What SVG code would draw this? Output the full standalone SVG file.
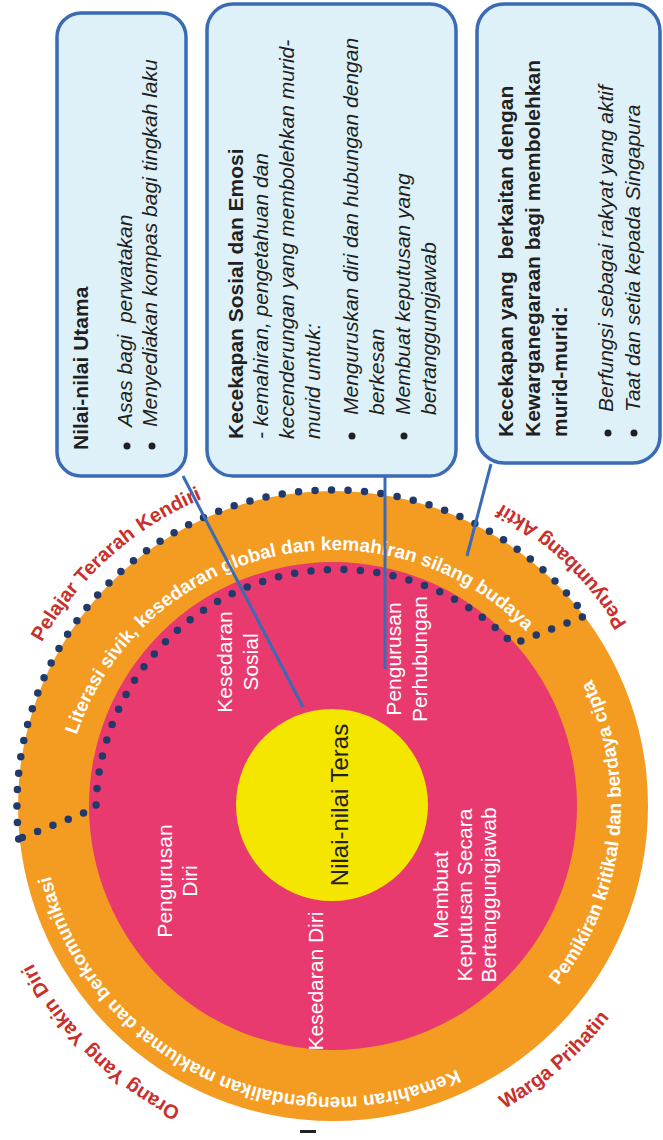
<svg xmlns="http://www.w3.org/2000/svg" width="663" height="1140" viewBox="0 0 663 1140">
<style>
.ring{font-family:"Liberation Sans",Arial,sans-serif;font-weight:bold;font-size:19px;fill:#fff}
.red{font-family:"Liberation Sans",Arial,sans-serif;font-weight:bold;font-size:20px;fill:#c9302b}
.inner{font-family:"Liberation Sans",Arial,sans-serif;font-size:21px;fill:#fff}
.core{font-family:"Liberation Sans",Arial,sans-serif;font-size:24px;fill:#222}
.box{fill:#def1f9;stroke:#3a6bb4;stroke-width:3.5}
.bt{font-family:"Liberation Sans",Arial,sans-serif;font-size:21px;fill:#231f20}
.b{font-weight:bold}
.i{font-style:italic}
.bul{fill:#231f20}
.conn{stroke:#3a6bb4;stroke-width:3;fill:none}
.dots{fill:none;stroke:#213a6b;stroke-width:7.5;stroke-linecap:round;stroke-dasharray:0 16.5}
</style>
<defs>
<path id="pTop" d="M64.03 796.47 A270 270 0 0 1 577.70 705.89"/>
<path id="pRight" d="M518.1 1026.6 A288 288 0 0 0 553.6 620.9"/>
<path id="pBottom" d="M499.9 1044.4 A291 291 0 0 1 43.1 831.4"/>
<path id="pPel" d="M10.4 719.6 A334 334 0 0 1 303.9 473.3"/>
<path id="pPen" d="M658.1 687.7 A346 346 0 0 0 422.6 471.8"/>
<path id="pWar" d="M423.1 1142.1 A348 348 0 0 0 648.4 953.1"/>
<path id="pOra" d="M274.1 1139.8 A339 339 0 0 1 -0.8 864.9"/>
</defs>

<g id="rings">
<circle cx="333" cy="806" r="315" fill="#f49b22"/>
<circle cx="333" cy="806" r="244" fill="#e83a6f"/>
<circle cx="332" cy="805" r="96" fill="#f5e600"/>
<path class="dots" d="M18.7 839 A316 316 0 0 1 585.4 615.8 L512.8 644.1 A242 242 0 0 0 96 808 Z"/>
</g>

<g id="ring-labels">
<text class="ring"><textPath href="#pTop" startOffset="63">Literasi</textPath></text>
<text class="ring"><textPath href="#pTop" startOffset="135.9">sivik,</textPath></text>
<text class="ring"><textPath href="#pTop" startOffset="188.7">kesedaran</textPath></text>
<text class="ring"><textPath href="#pTop" startOffset="288">global</textPath></text>
<text class="ring"><textPath href="#pTop" startOffset="349.3">dan</textPath></text>
<text class="ring"><textPath href="#pTop" startOffset="388.4">kemahiran</textPath></text>
<text class="ring"><textPath href="#pTop" startOffset="488.7">silang</textPath></text>
<text class="ring"><textPath href="#pTop" startOffset="548.9">budaya</textPath></text>
<text class="ring" text-anchor="middle"><textPath href="#pRight" startOffset="220">Pemikiran kritikal dan berdaya cipta</textPath></text>
<text class="ring"><textPath href="#pBottom" startOffset="50">Kemahiran</textPath></text>
<text class="ring"><textPath href="#pBottom" startOffset="153.5">mengendalikan</textPath></text>
<text class="ring"><textPath href="#pBottom" startOffset="296.9">maklumat</textPath></text>
<text class="ring"><textPath href="#pBottom" startOffset="390.9">dan</textPath></text>
<text class="ring"><textPath href="#pBottom" startOffset="430">berkomunikasi</textPath></text>
</g>

<g id="outer-labels">
<text class="red"><textPath href="#pPel" startOffset="83.5">Pelajar</textPath></text>
<text class="red"><textPath href="#pPel" startOffset="154.7">Terarah</textPath></text>
<text class="red"><textPath href="#pPel" startOffset="233.6">Kendiri</textPath></text>
<text class="red"><textPath href="#pPen" startOffset="71.3">Penyumbang</textPath></text>
<text class="red"><textPath href="#pPen" startOffset="202.3">Aktif</textPath></text>
<text class="red" text-anchor="middle"><textPath href="#pWar" startOffset="158">Warga Prihatin</textPath></text>
<text class="red"><textPath href="#pOra" startOffset="98.5">Orang</textPath></text>
<text class="red"><textPath href="#pOra" startOffset="163">Yang</textPath></text>
<text class="red"><textPath href="#pOra" startOffset="217.5">Yakin</textPath></text>
<text class="red"><textPath href="#pOra" startOffset="276.4">Diri</textPath></text>
</g>

<g id="inner-labels">
<text class="inner" text-anchor="middle" transform="translate(0,662) rotate(-90)"><tspan x="0" y="232">Kesedaran</tspan><tspan x="0" y="258">Sosial</tspan></text>
<text class="inner" text-anchor="middle" transform="translate(0,659) rotate(-90)"><tspan x="0" y="401">Pengurusan</tspan><tspan x="0" y="427">Perhubungan</tspan></text>
<text class="inner" text-anchor="middle" transform="translate(0,881) rotate(-90)"><tspan x="0" y="172">Pengurusan</tspan><tspan x="0" y="197">Diri</tspan></text>
<text class="inner" text-anchor="middle" transform="translate(0,981) rotate(-90)"><tspan x="0" y="323">Kesedaran Diri</tspan></text>
<text class="inner" text-anchor="middle" transform="translate(0,895) rotate(-90)"><tspan x="0" y="448">Membuat</tspan><tspan x="0" y="472">Keputusan Secara</tspan><tspan x="0" y="496">Bertanggungjawab</tspan></text>
</g>

<g id="core">
<text class="core" text-anchor="middle" transform="translate(0,805) rotate(-90)"><tspan x="0" y="348">Nilai-nilai Teras</tspan></text>
</g>

<g id="connectors">
<line class="conn" x1="183" y1="476" x2="303" y2="707"/>
<line class="conn" x1="385" y1="477" x2="385" y2="669"/>
<line class="conn" x1="491" y1="464" x2="467" y2="556"/>
</g>

<g id="box1">
<rect class="box" x="57" y="13" width="129" height="463" rx="24"/>
<g transform="translate(0,450) rotate(-90)">
<text class="bt b" x="0" y="88">Nilai-nilai Utama</text>
<circle class="bul" cx="4" cy="127" r="3.5"/>
<circle class="bul" cx="4" cy="152" r="3.5"/>
<text class="bt i" x="23" y="132">Asas bagi&#160; perwatakan</text>
<text class="bt i" x="23" y="157">Menyediakan kompas bagi tingkah laku</text>
</g>
</g>

<g id="box2">
<rect class="box" x="207" y="4" width="249" height="472" rx="26"/>
<g transform="translate(0,439) rotate(-90)">
<text class="bt b" x="0" y="243">Kecekapan Sosial dan Emosi</text>
<text class="bt i" x="0" y="268">- kemahiran, pengetahuan dan</text>
<text class="bt i" x="0" y="294">kecenderungan yang membolehkan murid-</text>
<text class="bt i" x="0" y="320">murid untuk:</text>
<circle class="bul" cx="3" cy="352" r="3.5"/>
<circle class="bul" cx="3" cy="404" r="3.5"/>
<text class="bt i" x="24" y="358">Menguruskan diri dan hubungan dengan</text>
<text class="bt i" x="24" y="384">berkesan</text>
<text class="bt i" x="24" y="410">Membuat keputusan yang</text>
<text class="bt i" x="24" y="436">bertanggungjawab</text>
</g>
</g>

<g id="box3">
<rect class="box" x="477" y="4" width="183" height="459" rx="27"/>
<g transform="translate(0,437) rotate(-90)">
<text class="bt b" x="0" y="513">Kecekapan yang&#160; berkaitan dengan</text>
<text class="bt b" x="0" y="540">Kewarganegaraan bagi membolehkan</text>
<text class="bt b" x="0" y="567">murid-murid:</text>
<circle class="bul" cx="4" cy="608" r="3.5"/>
<circle class="bul" cx="4" cy="634" r="3.5"/>
<text class="bt i" x="25" y="613">Berfungsi sebagai rakyat yang aktif</text>
<text class="bt i" x="25" y="640">Taat dan setia kepada Singapura</text>
</g>
</g>

<rect x="300" y="1130" width="16" height="3" fill="#222"/>
</svg>
